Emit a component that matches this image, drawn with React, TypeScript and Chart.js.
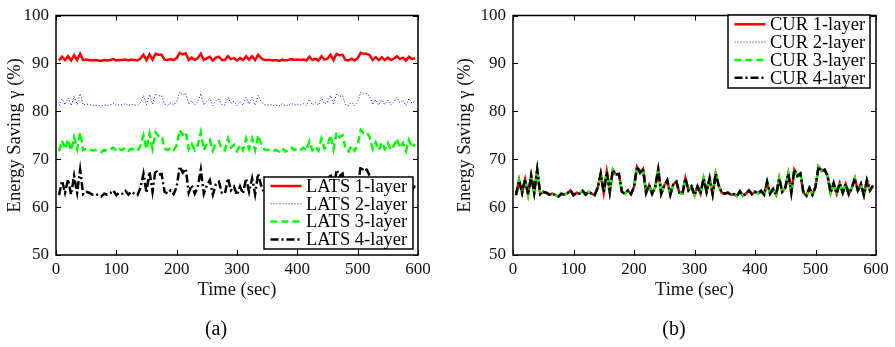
import { useEffect, useRef } from 'react';
import { Chart, registerables } from 'chart.js';

Chart.register(...registerables);

const TIMES = [
  5, 10, 15, 20, 25, 30, 35, 40, 45, 50,
  55, 60, 65, 70, 75, 80, 85, 90, 95, 100,
  105, 110, 115, 120, 125, 130, 135, 140, 145, 150,
  155, 160, 165, 170, 175, 180, 185, 190, 195, 200,
  205, 210, 215, 220, 225, 230, 235, 240, 245, 250,
  255, 260, 265, 270, 275, 280, 285, 290, 295, 300,
  305, 310, 315, 320, 325, 330, 335, 340, 345, 350,
  355, 360, 365, 370, 375, 380, 385, 390, 395, 400,
  405, 410, 415, 420, 425, 430, 435, 440, 445, 450,
  455, 460, 465, 470, 475, 480, 485, 490, 495, 500,
  505, 510, 515, 520, 525, 530, 535, 540, 545, 550,
  555, 560, 565, 570, 575, 580, 585, 590, 595,
];

const LATS_1 = [
  90.6, 91.4, 90.7, 91.5, 90.6, 91.7, 90.7, 92.0, 90.7, 90.8,
  90.7, 90.6, 90.7, 90.6, 90.5, 90.7, 90.6, 90.7, 90.9, 90.6,
  90.7, 90.7, 90.8, 90.6, 90.8, 90.7, 90.6, 91.0, 91.8, 90.7,
  91.9, 90.8, 92.0, 91.8, 91.8, 90.8, 90.7, 90.9, 90.7, 91.1,
  92.2, 91.9, 92.1, 90.7, 91.2, 90.7, 91.1, 92.0, 90.7, 91.1,
  91.4, 90.6, 91.2, 91.4, 90.7, 90.7, 91.5, 90.9, 91.1, 90.6,
  91.1, 90.7, 91.5, 90.8, 91.5, 90.7, 91.8, 91.1, 90.7, 90.7,
  90.7, 90.6, 90.7, 90.5, 90.8, 90.6, 90.7, 90.9, 90.7, 90.8,
  90.7, 90.8, 90.6, 91.4, 90.7, 91.0, 90.6, 91.5, 90.8, 91.0,
  91.8, 90.7, 92.0, 91.7, 91.8, 90.7, 90.6, 91.0, 90.6, 91.1,
  92.2, 92.0, 92.0, 91.7, 90.7, 91.3, 90.7, 91.3, 90.7, 91.2,
  90.7, 91.0, 91.5, 90.9, 91.2, 90.6, 91.4, 90.9, 91.1,
];

const LATS_2 = [
  81.2, 82.6, 81.4, 82.8, 81.2, 83.1, 81.4, 83.7, 81.3, 81.5,
  81.4, 81.2, 81.3, 81.2, 81.1, 81.3, 81.2, 81.4, 81.7, 81.2,
  81.4, 81.3, 81.6, 81.2, 81.5, 81.3, 81.2, 81.9, 83.3, 81.4,
  83.5, 81.5, 83.7, 83.2, 83.3, 81.5, 81.3, 81.7, 81.3, 82.0,
  84.0, 83.4, 83.8, 81.4, 82.2, 81.3, 82.0, 83.7, 81.3, 82.1,
  82.7, 81.2, 82.3, 82.5, 81.4, 81.3, 82.9, 81.7, 82.1, 81.2,
  82.1, 81.3, 82.9, 81.5, 82.9, 81.3, 83.3, 82.1, 81.4, 81.3,
  81.4, 81.2, 81.3, 81.1, 81.6, 81.2, 81.3, 81.7, 81.3, 81.5,
  81.3, 81.6, 81.2, 82.5, 81.3, 81.8, 81.2, 82.9, 81.5, 81.9,
  83.3, 81.4, 83.7, 83.1, 83.3, 81.4, 81.2, 81.9, 81.2, 82.0,
  84.0, 83.6, 83.7, 83.1, 81.4, 82.4, 81.3, 82.4, 81.4, 82.3,
  81.3, 81.9, 82.9, 81.7, 82.3, 81.2, 82.7, 81.7, 82.1,
];

const LATS_3 = [
  71.7, 73.9, 72.1, 74.1, 71.8, 74.6, 72.1, 75.6, 71.9, 72.2,
  72.1, 71.8, 71.9, 71.7, 71.5, 71.9, 71.8, 72.0, 72.4, 71.7,
  72.1, 71.9, 72.4, 71.8, 72.2, 71.9, 71.7, 72.8, 75.0, 72.1,
  75.3, 72.2, 75.6, 74.8, 74.9, 72.2, 71.9, 72.4, 71.9, 72.9,
  76.1, 75.1, 75.7, 72.1, 73.2, 71.9, 72.9, 75.6, 71.9, 73.2,
  74.0, 71.8, 73.4, 73.7, 72.1, 71.9, 74.3, 72.4, 73.0, 71.7,
  73.0, 71.9, 74.3, 72.2, 74.3, 71.9, 75.0, 73.2, 72.1, 71.9,
  72.1, 71.8, 71.9, 71.6, 72.3, 71.6, 71.9, 72.4, 71.9, 72.2,
  71.9, 72.4, 71.8, 73.7, 71.9, 72.7, 71.8, 74.3, 72.2, 72.8,
  75.0, 72.1, 75.6, 74.6, 75.0, 72.1, 71.6, 72.8, 71.8, 72.9,
  76.1, 75.4, 75.6, 74.6, 72.1, 73.5, 71.9, 73.5, 72.1, 73.4,
  71.9, 72.8, 74.3, 72.4, 73.4, 71.7, 74.0, 72.4, 73.2,
];

const LATS_4 = [
  62.5, 65.5, 63.0, 65.8, 62.6, 66.5, 63.0, 67.8, 62.7, 63.2,
  63.0, 62.6, 62.8, 62.5, 62.2, 62.8, 62.6, 62.9, 63.5, 62.5,
  63.0, 62.8, 63.4, 62.6, 63.2, 62.8, 62.5, 64.0, 67.0, 63.0,
  67.4, 63.2, 67.8, 66.8, 66.9, 63.2, 62.8, 63.5, 62.7, 64.2,
  68.5, 67.2, 68.0, 63.0, 64.6, 62.8, 64.2, 67.8, 62.8, 64.5,
  65.6, 62.6, 64.8, 65.3, 63.0, 62.8, 66.0, 63.5, 64.3, 62.5,
  64.3, 62.8, 66.0, 63.2, 66.0, 62.7, 67.0, 64.5, 63.0, 62.8,
  63.0, 62.6, 62.7, 62.3, 63.3, 62.4, 62.8, 63.5, 62.7, 63.2,
  62.8, 63.4, 62.6, 65.3, 62.8, 63.8, 62.6, 66.0, 63.2, 64.0,
  67.0, 63.0, 67.8, 66.5, 67.0, 63.0, 62.4, 64.0, 62.6, 64.2,
  68.5, 67.5, 67.8, 66.5, 63.0, 65.0, 62.8, 65.0, 63.0, 64.8,
  62.7, 64.0, 66.0, 63.5, 64.8, 62.5, 65.6, 63.5, 64.5,
];

const CUR_1 = [
  62.5, 65.7, 63.0, 65.8, 62.6, 66.6, 63.0, 67.7, 62.7, 63.2,
  63.0, 62.6, 62.8, 62.5, 62.2, 62.8, 62.6, 62.9, 63.5, 62.5,
  63.0, 62.8, 63.4, 62.6, 63.2, 62.8, 62.5, 64.0, 67.0, 63.0,
  67.4, 63.2, 67.8, 66.8, 66.9, 63.2, 62.8, 63.5, 62.7, 64.2,
  68.4, 67.2, 68.0, 63.0, 64.6, 62.8, 64.2, 67.8, 62.8, 64.5,
  65.6, 62.6, 64.8, 65.3, 63.0, 62.8, 66.1, 63.5, 64.3, 62.5,
  64.3, 62.8, 66.0, 63.2, 66.0, 62.7, 67.0, 64.5, 63.0, 62.8,
  63.0, 62.6, 62.7, 62.3, 63.3, 62.4, 62.8, 63.5, 62.7, 63.2,
  62.8, 63.4, 62.6, 65.2, 62.8, 63.8, 62.6, 66.0, 63.2, 64.0,
  67.0, 63.0, 67.8, 66.5, 67.0, 63.0, 62.4, 64.0, 62.6, 64.2,
  68.4, 67.5, 67.8, 66.5, 63.0, 65.0, 62.8, 65.0, 63.0, 64.8,
  62.7, 64.0, 66.0, 63.5, 64.8, 62.5, 65.6, 63.5, 64.5,
];

const CUR_2 = [
  62.5, 65.5, 63.0, 65.8, 62.6, 66.5, 63.0, 67.8, 62.7, 63.2,
  63.0, 62.6, 62.8, 62.5, 62.2, 62.8, 62.6, 62.9, 63.5, 62.5,
  63.0, 62.8, 63.4, 62.6, 63.2, 62.8, 62.5, 64.0, 67.0, 63.0,
  67.4, 63.2, 67.8, 66.8, 66.9, 63.2, 62.8, 63.5, 62.7, 64.2,
  68.5, 67.2, 68.0, 63.0, 64.6, 62.8, 64.2, 67.8, 62.8, 64.5,
  65.7, 62.6, 64.8, 65.3, 63.0, 62.8, 66.0, 63.5, 64.3, 62.5,
  64.3, 62.8, 66.0, 63.2, 66.0, 62.7, 67.0, 64.5, 63.0, 62.8,
  63.0, 62.6, 62.7, 62.3, 63.3, 62.4, 62.8, 63.5, 62.7, 63.2,
  62.8, 63.4, 62.6, 65.3, 62.8, 63.8, 62.6, 66.0, 63.2, 64.0,
  67.0, 63.0, 67.8, 66.5, 67.0, 63.0, 62.4, 64.0, 62.6, 64.2,
  68.5, 67.5, 67.8, 66.5, 63.0, 65.0, 62.8, 65.0, 63.0, 64.8,
  62.7, 64.0, 66.0, 63.5, 64.8, 62.5, 65.6, 63.5, 64.5,
];

const CUR_3 = [
  62.5, 65.5, 63.0, 65.8, 62.6, 66.5, 63.0, 67.8, 62.7, 63.2,
  63.0, 62.6, 62.8, 62.5, 62.2, 62.8, 62.6, 62.9, 63.5, 62.5,
  63.0, 62.8, 63.4, 62.6, 63.2, 62.8, 62.5, 64.0, 67.0, 63.0,
  67.4, 63.2, 67.8, 66.8, 66.9, 63.2, 62.8, 63.5, 62.7, 64.2,
  68.5, 67.2, 68.0, 63.0, 64.6, 62.8, 64.2, 67.8, 62.8, 64.5,
  65.6, 62.6, 64.8, 65.3, 63.0, 62.8, 66.0, 63.5, 64.3, 62.5,
  64.3, 62.8, 66.0, 63.2, 66.0, 62.7, 67.0, 64.5, 63.0, 62.8,
  63.0, 62.6, 62.7, 62.3, 63.3, 62.4, 62.8, 63.5, 62.7, 63.2,
  62.8, 63.4, 62.6, 65.3, 62.8, 63.8, 62.6, 66.0, 63.2, 64.0,
  67.0, 63.0, 67.8, 66.5, 67.0, 63.0, 62.4, 64.0, 62.6, 64.2,
  68.5, 67.5, 67.8, 66.5, 63.0, 65.0, 62.8, 65.0, 63.0, 64.8,
  62.7, 64.0, 66.0, 63.5, 64.8, 62.5, 65.6, 63.5, 64.5,
];

const CUR_4 = [
  62.5, 65.5, 63.0, 65.8, 62.6, 66.5, 63.0, 67.8, 62.7, 63.2,
  63.0, 62.6, 62.8, 62.5, 62.2, 62.8, 62.6, 62.9, 63.5, 62.5,
  63.0, 62.8, 63.4, 62.6, 63.2, 62.8, 62.5, 64.0, 67.0, 63.0,
  67.4, 63.2, 67.8, 66.8, 66.9, 63.2, 62.8, 63.5, 62.7, 64.2,
  68.5, 67.2, 68.0, 63.0, 64.6, 62.8, 64.2, 67.8, 62.8, 64.5,
  65.6, 62.6, 64.8, 65.3, 63.0, 62.8, 66.0, 63.5, 64.3, 62.5,
  64.3, 62.8, 66.0, 63.2, 66.0, 62.7, 67.0, 64.5, 63.0, 62.8,
  63.0, 62.6, 62.7, 62.3, 63.3, 62.4, 62.8, 63.5, 62.7, 63.2,
  62.8, 63.4, 62.6, 65.3, 62.8, 63.8, 62.6, 66.0, 63.2, 64.0,
  67.0, 63.0, 67.8, 66.5, 67.0, 63.0, 62.4, 64.0, 62.6, 64.2,
  68.5, 67.5, 67.8, 66.5, 63.0, 65.0, 62.8, 65.0, 63.0, 64.8,
  62.7, 64.0, 66.0, 63.5, 64.8, 62.5, 65.6, 63.5, 64.5,
];

const LATS_LABELS = ['LATS 1-layer', 'LATS 2-layer', 'LATS 3-layer', 'LATS 4-layer'];
const CUR_LABELS = ['CUR 1-layer', 'CUR 2-layer', 'CUR 3-layer', 'CUR 4-layer'];
const X_TITLE = 'Time (sec)';
const Y_TITLE = 'Energy Saving γ (%)';

const FONT = "'Liberation Serif', 'Times New Roman', serif";

const STYLES = [
  { color: '#ff0000', width: 2.5, dash: [] as number[] },
  { color: '#0000ff', width: 1, dash: [1, 2] },
  { color: '#00ff00', width: 2.5, dash: [7, 4] },
  { color: '#000000', width: 2.5, dash: [8, 3, 2, 3] },
];

const framePlugin = {
  id: 'matFrame',
  afterDraw(chart: any, _args: any, opts: any) {
    const { ctx, chartArea: a, scales } = chart;
    const xs = scales.x;
    const ys = scales.y;
    ctx.save();
    ctx.strokeStyle = '#000';
    ctx.lineWidth = 1;
    ctx.setLineDash([]);
    const tl = 5;
    ctx.beginPath();
    xs.ticks.forEach((t: any) => {
      const px = Math.round(xs.getPixelForValue(t.value)) + 0.5;
      ctx.moveTo(px, a.bottom);
      ctx.lineTo(px, a.bottom - tl);
      ctx.moveTo(px, a.top);
      ctx.lineTo(px, a.top + tl);
    });
    ys.ticks.forEach((t: any) => {
      const py = Math.round(ys.getPixelForValue(t.value)) + 0.5;
      ctx.moveTo(a.left, py);
      ctx.lineTo(a.left + tl, py);
      ctx.moveTo(a.right, py);
      ctx.lineTo(a.right - tl, py);
    });
    ctx.stroke();
    ctx.lineWidth = 1.5;
    ctx.strokeRect(a.left, a.top, a.right - a.left, a.bottom - a.top);

    // legend box
    const lg = opts.legend;
    ctx.fillStyle = '#fff';
    ctx.fillRect(lg.x, lg.y, lg.w, lg.h);
    ctx.lineWidth = 1.5;
    ctx.strokeRect(lg.x, lg.y, lg.w, lg.h);
    ctx.font = `18.5px ${FONT}`;
    ctx.textAlign = 'left';
    ctx.textBaseline = 'middle';
    chart.data.datasets.forEach((ds: any, i: number) => {
      const ry = lg.y + lg.first + i * lg.step;
      ctx.beginPath();
      ctx.strokeStyle = ds.borderColor;
      ctx.lineWidth = ds.borderWidth;
      ctx.setLineDash(ds.borderDash || []);
      ctx.moveTo(lg.x + 6.5, ry);
      ctx.lineTo(lg.x + 37.5, ry);
      ctx.stroke();
      ctx.setLineDash([]);
      ctx.fillStyle = '#000';
      ctx.fillText(ds.label, lg.x + 42, ry + 1);
    });

    // caption
    ctx.font = `20px ${FONT}`;
    ctx.textAlign = 'center';
    ctx.textBaseline = 'middle';
    ctx.fillStyle = '#000';
    ctx.fillText(opts.caption, opts.captionX, 330);
    ctx.restore();
  },
};

type PanelProps = {
  series: number[][];
  labels: string[];
  left: number;
  width: number;
  padLeft: number;
  padRight: number;
  yWidth: number;
  legend: any;
  caption: string;
  captionX: number;
};

function Panel(p: PanelProps) {
  const ref = useRef<HTMLCanvasElement | null>(null);
  useEffect(() => {
    const tickFont = { family: FONT, size: 17, lineHeight: 1 };
    const titleFont = { family: FONT, size: 18.5, lineHeight: 1.2 };
    const chart = new Chart(ref.current as HTMLCanvasElement, {
      type: 'line',
      data: {
        datasets: p.series.map((vals, i) => ({
          label: p.labels[i],
          data: TIMES.map((t, j) => ({ x: t, y: vals[j] })),
          borderColor: STYLES[i].color,
          backgroundColor: STYLES[i].color,
          borderWidth: STYLES[i].width,
          borderDash: STYLES[i].dash,
          pointRadius: 0,
          tension: 0,
          fill: false,
          order: 3 - i,
        })),
      },
      options: {
        responsive: false,
        animation: false,
        devicePixelRatio: 1,
        layout: { padding: { left: p.padLeft, right: p.padRight, top: 9, bottom: 46 } },
        plugins: {
          legend: { display: false },
          tooltip: { enabled: false },
          matFrame: { legend: p.legend, caption: p.caption, captionX: p.captionX },
        } as any,
        scales: {
          x: {
            type: 'linear',
            min: 0,
            max: 600,
            ticks: { stepSize: 100, font: tickFont, color: '#111', padding: 6, maxRotation: 0, autoSkip: false },
            grid: { display: false, drawTicks: false },
            border: { display: false },
            title: { display: true, text: X_TITLE, font: titleFont, color: '#111', padding: 0 },
            afterFit: (s: any) => { s.height = 46; },
          },
          y: {
            type: 'linear',
            min: 50,
            max: 100,
            ticks: { stepSize: 10, font: tickFont, color: '#111', padding: 7 },
            grid: { display: false, drawTicks: false },
            border: { display: false },
            title: { display: true, text: Y_TITLE, font: titleFont, color: '#111', padding: 0 },
            afterFit: (s: any) => { s.width = p.yWidth; },
          },
        },
      },
      plugins: [framePlugin],
    });
    return () => chart.destroy();
  }, []);
  return (
    <canvas
      ref={ref}
      width={p.width}
      height={347}
      style={{ position: 'absolute', left: p.left, top: 0, width: p.width, height: 347 }}
    />
  );
}

export default function App() {
  return (
    <div style={{ position: 'fixed', left: 0, top: 0, width: 895, height: 347, background: '#fff', overflow: 'hidden' }}>
      <Panel
        series={[LATS_1, LATS_2, LATS_3, LATS_4]}
        labels={LATS_LABELS}
        left={0}
        width={447}
        padLeft={4}
        padRight={29}
        yWidth={52}
        legend={{ x: 264, y: 177, w: 149, h: 72, first: 9, step: 17.8 }}
        caption="(a)"
        captionX={216}
      />
      <Panel
        series={[CUR_1, CUR_2, CUR_3, CUR_4]}
        labels={CUR_LABELS}
        left={447}
        width={448}
        padLeft={7}
        padRight={19}
        yWidth={59}
        legend={{ x: 281, y: 15, w: 142, h: 73, first: 9.3, step: 17.8 }}
        caption="(b)"
        captionX={227}
      />
    </div>
  );
}
